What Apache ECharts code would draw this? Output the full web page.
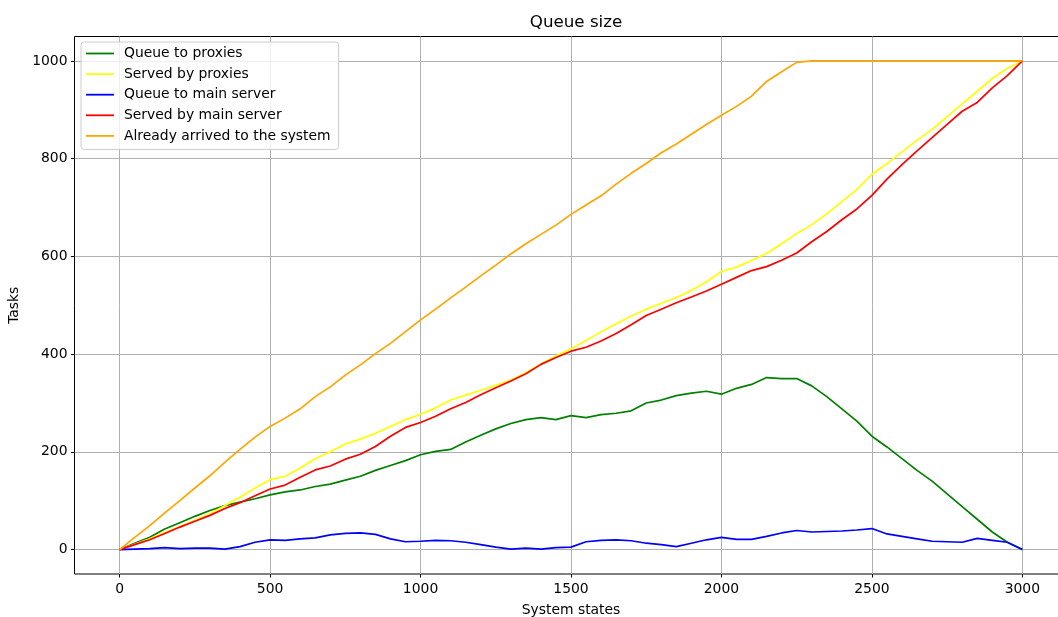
<!DOCTYPE html>
<html>
<head>
<meta charset="utf-8">
<script src="https://cdn.jsdelivr.net/npm/echarts@6/dist/echarts.min.js"></script>
<style>
html,body{margin:0;padding:0;background:#fff;}
#chart{width:1058px;height:617px;}
</style>
</head>
<body>
<div id="chart"></div>
<script>
// System states (x) sampled every 50 states
const states = [0,50,100,150,200,250,300,350,400,450,500,550,600,650,700,750,800,850,900,950,
  1000,1050,1100,1150,1200,1250,1300,1350,1400,1450,1500,1550,1600,1650,1700,1750,1800,1850,1900,1950,
  2000,2050,2100,2150,2200,2250,2300,2350,2400,2450,2500,2550,2600,2650,2700,2750,2800,2850,2900,2950,3000];

const queueToProxies = [0,13,25,42,55,68,80,90,97,104,112,118,122,129,134,142,150,162,172,182,
  194,201,205,220,234,247,258,266,270,266,274,270,276,279,284,300,306,315,320,324,
  318,330,338,352,350,350,335,313,288,263,232,210,186,162,140,114,88,62,36,15,0];

const servedByProxies = [0,11,22,35,47,60,73,90,107,126,143,150,167,186,200,216,226,238,252,266,
  277,290,306,316,326,336,347,362,380,396,411,428,446,462,478,492,504,516,530,548,
  569,578,592,606,626,647,665,687,712,737,768,790,814,838,860,886,912,938,964,985,1000];

const queueToMainServer = [0,1,2,4,2,3,3,1,6,15,20,19,22,24,30,33,34,31,22,16,
  17,19,18,15,10,5,1,3,1,4,5,16,19,20,18,13,10,6,13,20,
  25,21,21,27,34,39,36,37,38,40,43,32,27,22,17,16,15,23,19,15,0];

const servedByMainServer = [0,10,20,33,46,58,70,84,96,110,124,132,148,163,171,185,195,211,232,250,
  260,273,288,301,317,331,345,360,379,393,406,414,427,442,460,479,492,505,517,529,
  543,557,571,579,592,607,630,651,675,697,725,758,788,816,843,870,897,915,945,970,1000];

const alreadyArrived = [0,25,49,75,100,126,151,179,205,230,252,269,288,313,333,357,378,401,422,446,
  470,492,515,537,560,582,605,626,645,664,686,705,724,748,770,790,812,830,850,870,
  889,907,928,958,978,997,1000,1000,1000,1000,1000,1000,1000,1000,1000,1000,1000,1000,1000,1000,1000];

const xTicks = [0,500,1000,1500,2000,2500,3000];
const yTicks = [0,200,400,600,800,1000];

const seriesDefs = [
  {name:'Queue to proxies', color:'#008000', values:queueToProxies},
  {name:'Served by proxies', color:'#ffff00', values:servedByProxies},
  {name:'Queue to main server', color:'#0000ff', values:queueToMainServer},
  {name:'Served by main server', color:'#ff0000', values:servedByMainServer},
  {name:'Already arrived to the system', color:'#ffa500', values:alreadyArrived}
];

const FONT = 'DejaVu Sans';
const chart = echarts.init(document.getElementById('chart'), null, {renderer:'canvas'});
chart.setOption({
  animation:false,
  backgroundColor:'#ffffff',
  title:{
    text:'Queue size', left:571, top:9, textAlign:'center',
    textStyle:{fontFamily:FONT, fontSize:16.7, fontWeight:'normal', color:'#000'}
  },
  legend:{
    orient:'vertical', left:81, top:42,
    padding:[4.5,8,6.5,5],
    itemWidth:28, itemHeight:14, itemGap:6.6,
    icon:'path://M0,0 L28,0 L28,1.8 L0,1.8 Z',
    backgroundColor:'rgba(255,255,255,0.8)',
    borderColor:'#cccccc', borderWidth:1, borderRadius:3,
    textStyle:{fontFamily:FONT, fontSize:13.9, color:'#000', padding:[0,0,0,5]},
    data:seriesDefs.map(d=>d.name)
  },
  grid:{left:74.5, right:-9.5, top:36.5, bottom:43, show:true, borderColor:'#000', borderWidth:1,
        backgroundColor:'transparent', containLabel:false, outerBoundsMode:'none'},
  xAxis:{
    type:'value', min:-150, max:3150,
    name:'System states', nameLocation:'middle', nameGap:29,
    nameTextStyle:{fontFamily:FONT, fontSize:13.9, color:'#000'},
    axisLine:{show:false, onZero:false},
    axisTick:{show:true, length:3.5, lineStyle:{color:'#000', width:1}, customValues:xTicks},
    axisLabel:{fontFamily:FONT, fontSize:13.9, color:'#000', margin:8, customValues:xTicks, formatter:v=>String(v)},
    splitLine:{show:true, lineStyle:{color:'#b0b0b0', width:1}}
  },
  yAxis:{
    type:'value', min:-50, max:1050,
    name:'Tasks', nameLocation:'middle', nameGap:50, nameRotate:90,
    nameTextStyle:{fontFamily:FONT, fontSize:13.9, color:'#000'},
    axisLine:{show:false, onZero:false},
    axisTick:{show:true, length:3.5, lineStyle:{color:'#000', width:1}, customValues:yTicks},
    axisLabel:{fontFamily:FONT, fontSize:13.9, color:'#000', margin:7, customValues:yTicks, formatter:v=>String(v)},
    splitLine:{show:true, lineStyle:{color:'#b0b0b0', width:1}}
  },
  series:seriesDefs.map(d=>({
    name:d.name, type:'line', symbol:'none', showSymbol:false,
    data:states.map((s,i)=>[s, d.values[i]]),
    lineStyle:{color:d.color, width:1.7},
    itemStyle:{color:d.color},
    emphasis:{disabled:true}
  }))
});
</script>
</body>
</html>
